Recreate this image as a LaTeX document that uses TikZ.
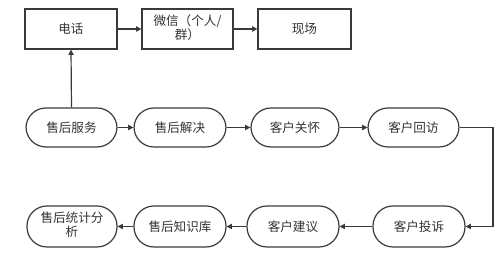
\documentclass[tikz,border=0pt]{standalone}
\usepackage{fontspec}
\setmainfont{Noto Sans CJK SC}
\usetikzlibrary{arrows.meta}
\definecolor{lineclr}{HTML}{3A3A3A}
\definecolor{txtclr}{HTML}{333333}
\newcommand{\twolines}[2]{\begin{tabular}{@{}c@{}}\hbox{#1}\\[-1.5pt]\hbox{#2}\end{tabular}}
\tikzset{
  rectbox/.style={draw=lineclr, line width=0.6pt, minimum height=20pt, inner sep=1pt,
    font=\fontsize{6.3pt}{8.5pt}\selectfont, text=txtclr},
  pillbox/.style={draw=lineclr, line width=0.6pt, rounded corners=10pt, minimum height=20pt, inner sep=1pt,
    font=\fontsize{6.3pt}{8.5pt}\selectfont, text=txtclr},
  conn/.style={draw=lineclr, line width=0.6pt, -{Triangle[length=2.6pt,width=2.6pt]}}
}
\begin{document}
\begin{tikzpicture}[x=0.5pt,y=-0.5pt]
\useasboundingbox (0,0) rectangle (500,271);
% top row
\node[rectbox, minimum width=46pt] (dh) at (71,29) {电话};
\node[rectbox, minimum width=45.5pt] (wx) at (187.5,29) {\twolines{微信（个人/}{群）}};
\node[rectbox, minimum width=46.5pt] (xc) at (304.5,29) {现场};
% middle row
\node[pillbox, minimum width=45.5pt, minimum height=19.5pt] (fw) at (71.5,127.5) {售后服务};
\node[pillbox, minimum width=46pt, minimum height=19.5pt] (jj) at (180,127.5) {售后解决};
\node[pillbox, minimum width=44pt, minimum height=19.5pt] (gh) at (295,127.5) {客户关怀};
\node[pillbox, minimum width=45.5pt, minimum height=19.5pt] (hf) at (413.5,127.5) {客户回访};
% bottom row
\node[pillbox, minimum width=45pt, minimum height=20.5pt] (tj) at (72,226.5) {\twolines{售后统计分}{析}};
\node[pillbox, minimum width=46pt, minimum height=20.5pt] (zs) at (180,226.5) {售后知识库};
\node[pillbox, minimum width=46pt, minimum height=20.5pt] (jy) at (293,226.5) {客户建议};
\node[pillbox, minimum width=46pt, minimum height=20.5pt] (ts) at (419,226.5) {客户投诉};
\coordinate (c1) at (493,127.5);
\coordinate (c2) at (493,226.5);
% connectors
\draw[conn] (dh) -- (wx);
\draw[conn] (wx) -- (xc);
\draw[conn] (fw.north) -- (dh.south);
\draw[conn] (fw) -- (jj);
\draw[conn] (jj) -- (gh);
\draw[conn] (gh) -- (hf);
\draw[conn] (hf.east) -- (c1) -- (c2) -- (ts.east);
\draw[conn] (ts) -- (jy);
\draw[conn] (jy) -- (zs);
\draw[conn] (zs) -- (tj);
\end{tikzpicture}
\end{document}
